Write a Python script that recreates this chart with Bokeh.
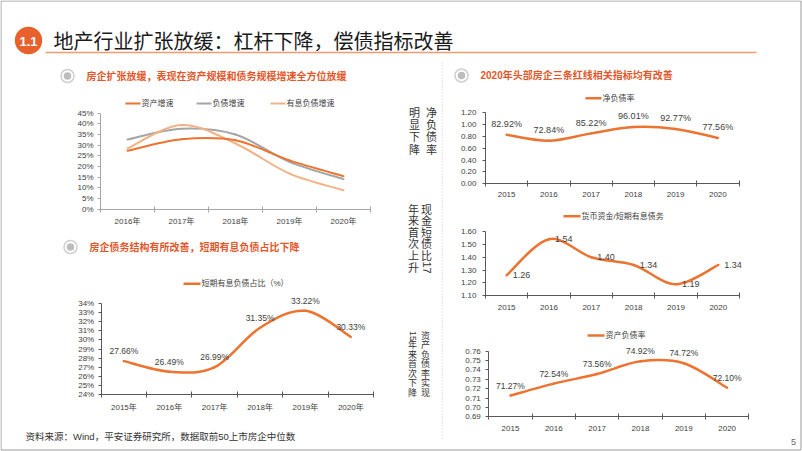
import math
from bokeh.plotting import figure
from bokeh.models import (Range1d, FixedTicker, PrintfTickFormatter, NumeralTickFormatter,
                          LinearAxis)
from bokeh.core.properties import value
from bokeh.embed import file_html
from bokeh.resources import INLINE

# ---------------- data ----------------
years_l1 = ["2016年", "2017年", "2018年", "2019年", "2020年"]
asset_growth = [27.3, 32.7, 32.2, 22.8, 15.4]
liab_growth = [32.6, 37.6, 34.9, 22.1, 14.0]
ib_liab_growth = [28.4, 39.4, 30.7, 16.6, 8.8]
l1_names = ["资产增速", "负债增速", "有息负债增速"]
l1_ticks = [0, 5, 10, 15, 20, 25, 30, 35, 40, 45]

years_l2 = ["2015年", "2016年", "2017年", "2018年", "2019年", "2020年"]
short_ratio = [27.66, 26.49, 26.99, 31.35, 33.22, 30.33]
l2_name = "短期有息负债占比（%）"
l2_ticks = [24, 25, 26, 27, 28, 29, 30, 31, 32, 33, 34]

years_r = ["2015", "2016", "2017", "2018", "2019", "2020"]
net_debt_ratio = [0.8292, 0.7284, 0.8522, 0.9601, 0.9277, 0.7756]
cash_short_debt = [1.26, 1.54, 1.40, 1.34, 1.19, 1.34]
asset_liab_ratio = [0.7127, 0.7254, 0.7356, 0.7492, 0.7472, 0.7210]
r1_ticks = [0.0, 0.2, 0.4, 0.6, 0.8, 1.0, 1.2]
r2_ticks = [1.1, 1.2, 1.3, 1.4, 1.5, 1.6]
r3_ticks = [0.69, 0.70, 0.71, 0.72, 0.73, 0.74, 0.75, 0.76]
r_names = ["净负债率", "货币资金/短期有息债务", "资产负债率"]

title_text = "地产行业扩张放缓：杠杆下降，偿债指标改善"
sub_l1 = "房企扩张放缓，表现在资产规模和债务规模增速全方位放缓"
sub_l2 = "房企债务结构有所改善，短期有息负债占比下降"
sub_r1 = "2020年头部房企三条红线相关指标均有改善"
source_text = "资料来源：Wind，平安证券研究所，数据取前50上市房企中位数"

ORANGE = "#EC7330"
GRAY = "#A5A5A5"
LIGHT = "#F4B183"
RED = "#E4572A"
TXT = "#404040"
CJK = "Noto Sans CJK SC"
MIX = "Liberation Sans, Noto Sans CJK SC"

W, H = 802, 451

# one canvas in pixel units (y downward); every chart gets its own scales
p = figure(width=W, height=H, x_range=Range1d(0, W), y_range=Range1d(H, 0),
           x_axis_type=None, y_axis_type=None, output_backend="svg", toolbar_location=None,
           min_border_left=0, min_border_right=0, min_border_top=0, min_border_bottom=0)
p.title.visible = False
p.outline_line_color = None
p.background_fill_color = "white"
p.border_fill_color = "white"

xr, yr = {}, {}


def add_chart(name, labels, ylo, yhi, frame, yticks, fmt, axis_color, sx, sy,
              t_in=3, t_out=3):
    fl, fr, ft, fb = frame
    n = len(labels)
    ux = n / (fr - fl)
    uy = (yhi - ylo) / (fb - ft)
    xr[name] = Range1d(-0.5 - fl * ux, -0.5 + (W - fl) * ux)
    yr[name] = Range1d(ylo - (H - fb) * uy, ylo + fb * uy)
    p.extra_x_ranges = dict(xr)
    p.extra_y_ranges = dict(yr)
    xa = LinearAxis(x_range_name=name, y_range_name=name, fixed_location=ylo,
                    ticker=FixedTicker(ticks=list(range(n)),
                                       minor_ticks=[i - 0.5 for i in range(n + 1)]),
                    bounds=(-0.5, n - 0.5))
    xa.major_label_overrides = {i: lab for i, lab in enumerate(labels)}
    xa.major_tick_line_color = None
    xa.major_tick_in = 0
    xa.major_tick_out = 0
    xa.minor_tick_line_color = axis_color
    xa.minor_tick_in = t_in
    xa.minor_tick_out = t_out
    xa.axis_line_color = axis_color
    xa.major_label_standoff = sx
    xa.major_label_text_font_size = "8px"
    xa.major_label_text_font = MIX
    xa.major_label_text_color = TXT
    p.add_layout(xa, "below")
    ya = LinearAxis(x_range_name=name, y_range_name=name, fixed_location=-0.5,
                    ticker=FixedTicker(ticks=yticks), formatter=fmt, bounds=(ylo, yhi))
    ya.minor_tick_line_color = None
    ya.major_tick_line_color = axis_color
    ya.major_tick_in = 0
    ya.major_tick_out = 3
    ya.axis_line_color = axis_color
    ya.major_label_standoff = sy
    ya.major_label_text_font_size = "8px"
    ya.major_label_text_font = MIX
    ya.major_label_text_color = TXT
    p.add_layout(ya, "left")


def smooth(name, vals, color, width):
    n = len(vals)
    xs = list(range(n))
    d = {k: [] for k in ["x0", "y0", "x1", "y1", "cx0", "cy0", "cx1", "cy1"]}
    for i in range(n - 1):
        a = max(i - 1, 0)
        b = min(i + 2, n - 1)
        d["x0"].append(xs[i]); d["y0"].append(vals[i])
        d["x1"].append(xs[i + 1]); d["y1"].append(vals[i + 1])
        d["cx0"].append(xs[i] + (xs[i + 1] - xs[a]) / 6)
        d["cy0"].append(vals[i] + (vals[i + 1] - vals[a]) / 6)
        d["cx1"].append(xs[i + 1] - (xs[b] - xs[i]) / 6)
        d["cy1"].append(vals[i + 1] - (vals[b] - vals[i]) / 6)
    p.bezier(line_color=color, line_width=width, line_cap="round",
             x_range_name=name, y_range_name=name, **d)


def labels_on(name, vals, texts, xo=0, yo=-10, align="center", size="8.5px"):
    p.text(x=list(range(len(vals))), y=vals, text=texts, text_align=align,
           text_baseline="middle", x_offset=xo, y_offset=yo, text_font_size=size,
           text_color=TXT, text_font=value("Liberation Sans"),
           x_range_name=name, y_range_name=name)


def legend_item(x, y, label, color, width=2, length=15):
    p.segment(x0=[x], y0=[y], x1=[x + length], y1=[y], line_color=color, line_width=width)
    p.text(x=[x + length + 1], y=[y], text=[label], text_align="left", text_baseline="middle",
           text_font_size="8px", text_color=TXT, text_font=value(MIX))


def subtitle(x, y, text):
    p.circle(x=[x], y=[y], radius=6.5, fill_color="white", line_color="#CFCFCF", line_width=1.5)
    p.circle(x=[x], y=[y], radius=3.8, fill_color="#BDBDBD", line_color=None)
    p.text(x=[x + 19], y=[y], text=[text], text_align="left", text_baseline="middle",
           text_font_size="10px", text_font_style="bold", text_color=RED, text_font=value(MIX))


# ---------------- frame / header ----------------
p.segment(x0=[0.5, 0.5, 800.5, 0.5], y0=[0.5, 0.5, 0.5, 449.5],
          x1=[800.5, 0.5, 800.5, 800.5], y1=[0.5, 449.5, 449.5, 449.5],
          line_color="#9A9A9A", line_width=1)
p.segment(x0=[45], y0=[52], x1=[756], y1=[52], line_color="#EE9B6E", line_width=1.5)
p.circle(x=[28], y=[40], radius=13.7, fill_color="#E8612C", line_color=None)
p.text(x=[28], y=[40.5], text=["1.1"], text_align="center", text_baseline="middle",
       text_font_size="13px", text_font_style="bold", text_color="white",
       text_font=value("Liberation Sans"))
p.text(x=[53], y=[40], text=[title_text], text_align="left", text_baseline="middle",
       text_font_size="20px", text_color="#1A1A1A", text_font=value(CJK))

# ---------------- left top ----------------
subtitle(67, 75.5, sub_l1)
legend_item(125, 103, l1_names[0], ORANGE)
legend_item(196, 103, l1_names[1], GRAY)
legend_item(270, 103, l1_names[2], LIGHT)
add_chart("l1", years_l1, 0, 45, (100, 370, 112.5, 208.5), l1_ticks,
          PrintfTickFormatter(format="%d%%"), "#A6A6A6", 5, 4)
smooth("l1", liab_growth, GRAY, 2)
smooth("l1", ib_liab_growth, LIGHT, 2)
smooth("l1", asset_growth, ORANGE, 2)

# ---------------- left bottom ----------------
subtitle(70, 246.5, sub_l2)
legend_item(183, 283.3, l2_name, ORANGE, width=2.5, length=17)
add_chart("l2", years_l2, 24, 34, (100.7, 373, 303.3, 393.7), l2_ticks,
          PrintfTickFormatter(format="%d%%"), "#595959", 6, 4)
smooth("l2", short_ratio, ORANGE, 2.5)
labels_on("l2", short_ratio, [f"{v:.2f}%" for v in short_ratio])

# ---------------- annotations ----------------
p.segment(x0=[441.7], y0=[62], x1=[441.7], y1=[440], line_color="#C8C8C8", line_dash="1 2")
ax, ay, at, aa, asz = [], [], [], [], []


def vcol(x, y0, pitch, chars, size):
    for i, c in enumerate(chars):
        ax.append(x); ay.append(y0 + i * pitch); at.append(c)
        aa.append(-math.pi / 2 if c.isdigit() else 0.0)
        asz.append(size)


vcol(431, 112.5, 12.2, list("净负债率"), "11px")
vcol(414, 112.5, 12.2, list("明显下降"), "11px")
vcol(426, 209, 11.6, ["现", "金", "短", "债", "比", "17"], "11px")
vcol(413, 209, 11.6, ["年", "来", "首", "次", "上", "升"], "11px")
vcol(425, 335.5, 9.45, list("资产负债率实现"), "9px")
vcol(412, 335.5, 9.45, ["15", "年", "来", "首", "次", "下", "降"], "9px")
p.text(x=ax, y=ay, text=at, angle=aa, text_font_size=asz, text_align="center",
       text_baseline="middle", text_color="#333333", text_font=value(MIX))

# ---------------- right charts ----------------
subtitle(461, 75, sub_r1)
legend_item(585, 97.7, r_names[0], ORANGE, width=2.5, length=16)
add_chart("r1", years_r, 0.0, 1.2, (485, 738.5, 112.3, 183.3), r1_ticks,
          NumeralTickFormatter(format="0.00"), "#595959", 5, 6)
smooth("r1", net_debt_ratio, ORANGE, 2.5)
labels_on("r1", net_debt_ratio, [f"{v * 100:.2f}%" for v in net_debt_ratio], yo=-10.5,
          size="9px")

legend_item(563, 215.7, r_names[1], ORANGE, width=2.5, length=17)
add_chart("r2", years_r, 1.1, 1.6, (485, 739, 231, 295.3), r2_ticks,
          NumeralTickFormatter(format="0.00"), "#595959", 6, 6)
smooth("r2", cash_short_debt, ORANGE, 2.5)
labels_on("r2", cash_short_debt, [f"{v:.2f}" for v in cash_short_debt], xo=6, yo=0,
          align="left", size="9px")

legend_item(587, 335, r_names[2], ORANGE, width=2.5, length=17)
add_chart("r3", years_r, 0.69, 0.76, (488.3, 748.3, 350.7, 416.3), r3_ticks,
          NumeralTickFormatter(format="0.00"), "#595959", 6, 5)
smooth("r3", asset_liab_ratio, ORANGE, 2.5)
labels_on("r3", asset_liab_ratio, [f"{v * 100:.2f}%" for v in asset_liab_ratio])

# ---------------- footer ----------------
p.text(x=[25], y=[435.5], text=[source_text], text_align="left", text_baseline="middle",
       text_font_size="9.5px", text_color="#333333", text_font=value(MIX))
p.text(x=[793], y=[441.5], text=["5"], text_align="center", text_baseline="middle",
       text_font_size="9px", text_color="#666666", text_font=value("Liberation Sans"))

open("out.html", "w").write(file_html(p, INLINE))
